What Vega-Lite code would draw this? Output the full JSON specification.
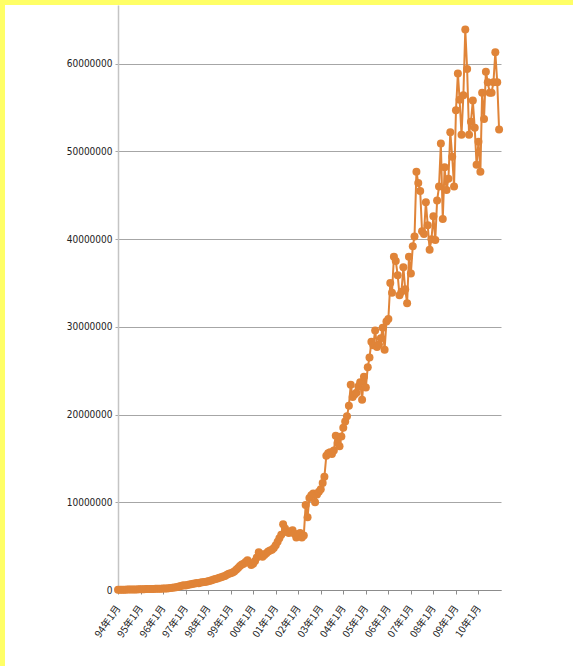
{
  "$schema": "https://vega.github.io/schema/vega-lite/v6.json",
  "background": "white",
  "padding": 0,
  "spacing": 0,
  "align": "none",
  "bounds": "full",
  "config": {"view": {"stroke": null}},
  "datasets": {
    "s": [
      {"d":"1994-01-01","v":20000},{"d":"1994-02-01","v":30000},{"d":"1994-03-01","v":30000},{"d":"1994-04-01","v":40000},{"d":"1994-05-01","v":40000},{"d":"1994-06-01","v":50000},{"d":"1994-07-01","v":50000},{"d":"1994-08-01","v":60000},{"d":"1994-09-01","v":60000},{"d":"1994-10-01","v":70000},{"d":"1994-11-01","v":70000},{"d":"1994-12-01","v":80000},
      {"d":"1995-01-01","v":80000},{"d":"1995-02-01","v":90000},{"d":"1995-03-01","v":90000},{"d":"1995-04-01","v":100000},{"d":"1995-05-01","v":100000},{"d":"1995-06-01","v":110000},{"d":"1995-07-01","v":110000},{"d":"1995-08-01","v":120000},{"d":"1995-09-01","v":130000},{"d":"1995-10-01","v":130000},{"d":"1995-11-01","v":140000},{"d":"1995-12-01","v":150000},
      {"d":"1996-01-01","v":160000},{"d":"1996-02-01","v":170000},{"d":"1996-03-01","v":180000},{"d":"1996-04-01","v":200000},{"d":"1996-05-01","v":220000},{"d":"1996-06-01","v":250000},{"d":"1996-07-01","v":280000},{"d":"1996-08-01","v":320000},{"d":"1996-09-01","v":360000},{"d":"1996-10-01","v":420000},{"d":"1996-11-01","v":480000},{"d":"1996-12-01","v":550000},
      {"d":"1997-01-01","v":500000},{"d":"1997-02-01","v":580000},{"d":"1997-03-01","v":620000},{"d":"1997-04-01","v":660000},{"d":"1997-05-01","v":700000},{"d":"1997-06-01","v":750000},{"d":"1997-07-01","v":800000},{"d":"1997-08-01","v":780000},{"d":"1997-09-01","v":850000},{"d":"1997-10-01","v":880000},{"d":"1997-11-01","v":920000},{"d":"1997-12-01","v":950000},
      {"d":"1998-01-01","v":1000000},{"d":"1998-02-01","v":1050000},{"d":"1998-03-01","v":1100000},{"d":"1998-04-01","v":1200000},{"d":"1998-05-01","v":1250000},{"d":"1998-06-01","v":1300000},{"d":"1998-07-01","v":1400000},{"d":"1998-08-01","v":1450000},{"d":"1998-09-01","v":1550000},{"d":"1998-10-01","v":1600000},{"d":"1998-11-01","v":1750000},{"d":"1998-12-01","v":1850000},
      {"d":"1999-01-01","v":1900000},{"d":"1999-02-01","v":2000000},{"d":"1999-03-01","v":2100000},{"d":"1999-04-01","v":2300000},{"d":"1999-05-01","v":2500000},{"d":"1999-06-01","v":2750000},{"d":"1999-07-01","v":2900000},{"d":"1999-08-01","v":3000000},{"d":"1999-09-01","v":3200000},{"d":"1999-10-01","v":3400000},{"d":"1999-11-01","v":3100000},{"d":"1999-12-01","v":2850000},
      {"d":"2000-01-01","v":3000000},{"d":"2000-02-01","v":3300000},{"d":"2000-03-01","v":3700000},{"d":"2000-04-01","v":4300000},{"d":"2000-05-01","v":4100000},{"d":"2000-06-01","v":3800000},{"d":"2000-07-01","v":4000000},{"d":"2000-08-01","v":4200000},{"d":"2000-09-01","v":4400000},{"d":"2000-10-01","v":4500000},{"d":"2000-11-01","v":4600000},{"d":"2000-12-01","v":4800000},
      {"d":"2001-01-01","v":5100000},{"d":"2001-02-01","v":5500000},{"d":"2001-03-01","v":5900000},{"d":"2001-04-01","v":6300000},{"d":"2001-05-01","v":7500000},{"d":"2001-06-01","v":7000000},{"d":"2001-07-01","v":6600000},{"d":"2001-08-01","v":6500000},{"d":"2001-09-01","v":6700000},{"d":"2001-10-01","v":6800000},{"d":"2001-11-01","v":6400000},{"d":"2001-12-01","v":6000000},
      {"d":"2002-01-01","v":6300000},{"d":"2002-02-01","v":6500000},{"d":"2002-03-01","v":6000000},{"d":"2002-04-01","v":6200000},{"d":"2002-05-01","v":9700000},{"d":"2002-06-01","v":8300000},{"d":"2002-07-01","v":10500000},{"d":"2002-08-01","v":10800000},{"d":"2002-09-01","v":11000000},{"d":"2002-10-01","v":10000000},{"d":"2002-11-01","v":10900000},{"d":"2002-12-01","v":11200000},
      {"d":"2003-01-01","v":11500000},{"d":"2003-02-01","v":12200000},{"d":"2003-03-01","v":12900000},{"d":"2003-04-01","v":15300000},{"d":"2003-05-01","v":15600000},{"d":"2003-06-01","v":15700000},{"d":"2003-07-01","v":15500000},{"d":"2003-08-01","v":15900000},{"d":"2003-09-01","v":17600000},{"d":"2003-10-01","v":16800000},{"d":"2003-11-01","v":16400000},{"d":"2003-12-01","v":17500000},
      {"d":"2004-01-01","v":18500000},{"d":"2004-02-01","v":19200000},{"d":"2004-03-01","v":19800000},{"d":"2004-04-01","v":21000000},{"d":"2004-05-01","v":23400000},{"d":"2004-06-01","v":22000000},{"d":"2004-07-01","v":22300000},{"d":"2004-08-01","v":22500000},{"d":"2004-09-01","v":23200000},{"d":"2004-10-01","v":23700000},{"d":"2004-11-01","v":21700000},{"d":"2004-12-01","v":24300000},
      {"d":"2005-01-01","v":23100000},{"d":"2005-02-01","v":25400000},{"d":"2005-03-01","v":26500000},{"d":"2005-04-01","v":28300000},{"d":"2005-05-01","v":27900000},{"d":"2005-06-01","v":29600000},{"d":"2005-07-01","v":27700000},{"d":"2005-08-01","v":28000000},{"d":"2005-09-01","v":28700000},{"d":"2005-10-01","v":29900000},{"d":"2005-11-01","v":27400000},{"d":"2005-12-01","v":30600000},
      {"d":"2006-01-01","v":30900000},{"d":"2006-02-01","v":35000000},{"d":"2006-03-01","v":33900000},{"d":"2006-04-01","v":38000000},{"d":"2006-05-01","v":37500000},{"d":"2006-06-01","v":35900000},{"d":"2006-07-01","v":33600000},{"d":"2006-08-01","v":34000000},{"d":"2006-09-01","v":36800000},{"d":"2006-10-01","v":34300000},{"d":"2006-11-01","v":32700000},{"d":"2006-12-01","v":38000000},
      {"d":"2007-01-01","v":36100000},{"d":"2007-02-01","v":39200000},{"d":"2007-03-01","v":40300000},{"d":"2007-04-01","v":47700000},{"d":"2007-05-01","v":46400000},{"d":"2007-06-01","v":45500000},{"d":"2007-07-01","v":40900000},{"d":"2007-08-01","v":40600000},{"d":"2007-09-01","v":44200000},{"d":"2007-10-01","v":41600000},{"d":"2007-11-01","v":38800000},{"d":"2007-12-01","v":40000000},
      {"d":"2008-01-01","v":42600000},{"d":"2008-02-01","v":39900000},{"d":"2008-03-01","v":44400000},{"d":"2008-04-01","v":46000000},{"d":"2008-05-01","v":50900000},{"d":"2008-06-01","v":42300000},{"d":"2008-07-01","v":48200000},{"d":"2008-08-01","v":45600000},{"d":"2008-09-01","v":46900000},{"d":"2008-10-01","v":52200000},{"d":"2008-11-01","v":49400000},{"d":"2008-12-01","v":46000000},
      {"d":"2009-01-01","v":54700000},{"d":"2009-02-01","v":58900000},{"d":"2009-03-01","v":55900000},{"d":"2009-04-01","v":51900000},{"d":"2009-05-01","v":56400000},{"d":"2009-06-01","v":63900000},{"d":"2009-07-01","v":59400000},{"d":"2009-08-01","v":51900000},{"d":"2009-09-01","v":53400000},{"d":"2009-10-01","v":55800000},{"d":"2009-11-01","v":52700000},{"d":"2009-12-01","v":48500000},
      {"d":"2010-01-01","v":51100000},{"d":"2010-02-01","v":47700000},{"d":"2010-03-01","v":56700000},{"d":"2010-04-01","v":53700000},{"d":"2010-05-01","v":59100000},{"d":"2010-06-01","v":57900000},{"d":"2010-07-01","v":56700000},{"d":"2010-08-01","v":56700000},{"d":"2010-09-01","v":57900000},{"d":"2010-10-01","v":61300000},{"d":"2010-11-01","v":57900000},{"d":"2010-12-01","v":52500000}
    ]
  },
  "vconcat": [
    {
      "width": 573, "height": 5,
      "data": {"values": []},
      "mark": "rule",
      "encoding": {},
      "view": {"fill": "#FFFF66", "stroke": null}
    },
    {
      "spacing": 0,
      "align": "none",
      "bounds": "full",
      "hconcat": [
        {
          "width": 5, "height": 661,
          "data": {"values": []},
          "mark": "rule",
          "encoding": {},
          "view": {"fill": "#FFFF66", "stroke": null}
        },
        {
          "width": 383, "height": 585,
          "data": {"name": "s"},
          "view": {"stroke": null},
          "encoding": {
            "x": {
              "field": "d", "type": "temporal",
              "scale": {"type": "utc", "domain": [{"year": 1994, "month": 1, "date": 1, "utc": true}, {"year": 2011, "month": 1, "date": 1, "utc": true}]},
              "axis": {
                "title": null,
                "values": [
                  {"year": 1994, "month": 1, "date": 1, "utc": true},{"year": 1995, "month": 1, "date": 1, "utc": true},{"year": 1996, "month": 1, "date": 1, "utc": true},{"year": 1997, "month": 1, "date": 1, "utc": true},{"year": 1998, "month": 1, "date": 1, "utc": true},{"year": 1999, "month": 1, "date": 1, "utc": true},{"year": 2000, "month": 1, "date": 1, "utc": true},{"year": 2001, "month": 1, "date": 1, "utc": true},{"year": 2002, "month": 1, "date": 1, "utc": true},{"year": 2003, "month": 1, "date": 1, "utc": true},{"year": 2004, "month": 1, "date": 1, "utc": true},{"year": 2005, "month": 1, "date": 1, "utc": true},{"year": 2006, "month": 1, "date": 1, "utc": true},{"year": 2007, "month": 1, "date": 1, "utc": true},{"year": 2008, "month": 1, "date": 1, "utc": true},{"year": 2009, "month": 1, "date": 1, "utc": true},{"year": 2010, "month": 1, "date": 1, "utc": true}
                ],
                "format": "%y年%-m月",
                "labelAngle": -55,
                "labelAlign": "right",
                "labelBaseline": "middle",
                "labelFont": "Noto Sans CJK JP",
                "labelFontSize": 10,
                "labelColor": "#222222",
                "labelOverlap": false,
                "labelPadding": 12,
                "domainColor": "#8C8C8C",
                "tickColor": "#8C8C8C",
                "tickSize": 4,
                "grid": false
              }
            },
            "y": {
              "field": "v", "type": "quantitative",
              "scale": {"domain": [0, 66700000], "nice": false, "zero": true},
              "axis": {
                "title": null,
                "values": [0, 10000000, 20000000, 30000000, 40000000, 50000000, 60000000],
                "format": "d",
                "grid": true,
                "gridColor": "#A6A6A6",
                "gridWidth": 1,
                "domainColor": "#C4C4C4",
                "domainWidth": 1.5,
                "tickColor": "#A6A6A6",
                "tickSize": 3,
                "labelFont": "DejaVu Sans Condensed",
                "labelFontSize": 10,
                "labelColor": "#222222",
                "labelPadding": 3,
                "minExtent": 113,
                "maxExtent": 113
              }
            }
          },
          "layer": [
            {"mark": {"type": "line", "color": "#E08438", "strokeWidth": 2}},
            {"mark": {"type": "circle", "color": "#E08438", "opacity": 1, "size": 64}}
          ]
        }
      ]
    }
  ]
}
